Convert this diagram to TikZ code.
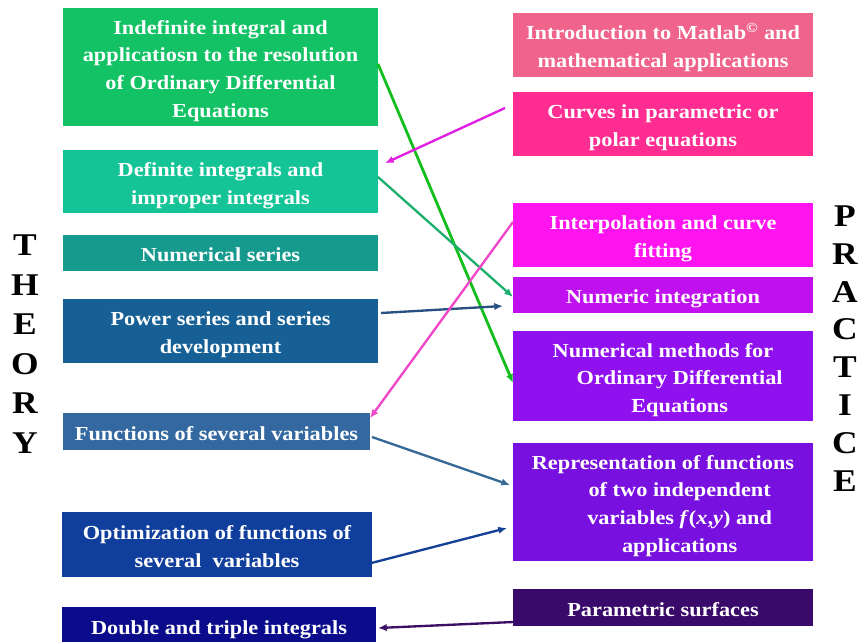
\documentclass[tikz,border=0pt]{standalone}
\usepackage{fontspec}
\setmainfont[FakeStretch=1.12]{Liberation Serif}
\usetikzlibrary{arrows.meta}

\definecolor{tone1}{RGB}{18,194,100}
\definecolor{tone2}{RGB}{20,196,150}
\definecolor{tone3}{RGB}{22,154,142}
\definecolor{tone4}{RGB}{22,96,150}
\definecolor{tone5}{RGB}{52,104,160}
\definecolor{tone6}{RGB}{16,62,156}
\definecolor{tone7}{RGB}{10,12,140}
\definecolor{pink1}{RGB}{240,100,140}
\definecolor{pink2}{RGB}{255,45,145}
\definecolor{pink3}{RGB}{255,20,240}
\definecolor{pink4}{RGB}{192,16,240}
\definecolor{pink5}{RGB}{144,16,240}
\definecolor{pink6}{RGB}{120,16,224}
\definecolor{pink7}{RGB}{58,10,106}
\definecolor{wire1}{RGB}{20,190,30}
\definecolor{wire2}{RGB}{225,30,225}
\definecolor{wire3}{RGB}{30,175,110}
\definecolor{wire4}{RGB}{40,80,130}
\definecolor{wire5}{RGB}{240,70,200}
\definecolor{wire6}{RGB}{55,105,150}
\definecolor{wire7}{RGB}{20,65,150}
\definecolor{wire8}{RGB}{60,15,100}

% pushes the text of a box a little down
\newcommand{\lift}{\rule{0pt}{19pt}}
\newcommand{\sink}{\rule[-4pt]{0pt}{4pt}}

\tikzset{
  topic/.style={rectangle, fill=#1, text=white, align=center, inner sep=0pt,
    outer sep=0pt, font=\fontsize{17}{23.6}\selectfont\bfseries},
  side/.style={align=center, inner sep=0pt, font=\fontsize{27}{#1}\selectfont\bfseries},
  link/.style={draw=#1, line width=2pt, -{Latex[length=2.6mm,width=2.2mm]}}
}

\begin{document}
\begin{tikzpicture}[x=0.3mm,y=-0.3mm]
  \useasboundingbox (0,0) rectangle (863,641);
  \draw
    (220.5,67) node[topic=tone1, minimum width=94.5mm, minimum height=35.4mm] (t1)
      {\lift Indefinite integral and\\applicatiosn to the resolution\\of Ordinary Differential\\Equations\sink}
    (220.5,181.5) node[topic=tone2, minimum width=94.5mm, minimum height=18.9mm] (t2)
      {\lift Definite integrals and\\improper integrals\sink}
    (220.5,253) node[topic=tone3, minimum width=94.5mm, minimum height=10.8mm] (t3)
      {\lift Numerical series\sink}
    (220.5,331) node[topic=tone4, minimum width=94.5mm, minimum height=19.2mm] (t4)
      {\lift Power series and series\\development\sink}
    (216.5,431.5) node[topic=tone5, minimum width=92.1mm, minimum height=11.1mm] (t5)
      {\lift Functions of several variables\sink}
    (217,544.5) node[topic=tone6, minimum width=93mm, minimum height=19.5mm] (t6)
      {\lift Optimization of functions of\\several~ variables\sink}
    (219,626) node[topic=tone7, minimum width=94.2mm, minimum height=11.4mm] (t7)
      {\lift Double and triple integrals\sink}
    (663,45) node[topic=pink1, minimum width=90mm, minimum height=19.2mm] (p1)
      {\lift Introduction to Matlab\textsuperscript{\copyright} and\\mathematical applications\sink}
    (663,124) node[topic=pink2, minimum width=90mm, minimum height=19.2mm] (p2)
      {\lift Curves in parametric or\\polar equations\sink}
    (663,235) node[topic=pink3, minimum width=90mm, minimum height=19.2mm] (p3)
      {\lift Interpolation and curve\\fitting\sink}
    (663,295) node[topic=pink4, minimum width=90mm, minimum height=10.8mm] (p4)
      {\lift Numeric integration\sink}
    (663,376) node[topic=pink5, minimum width=90mm, minimum height=27mm] (p5)
      {\lift Numerical methods for\\\hspace*{10mm}Ordinary Differential\\\hspace*{10mm}Equations\sink}
    (663,502) node[topic=pink6, minimum width=90mm, minimum height=35.4mm] (p6)
      {\lift Representation of functions\\\hspace*{10mm}of two independent\\\hspace*{10mm}variables \textit{f}(\textit{x},\textit{y}) and\\\hspace*{10mm}applications\sink}
    (663,607.5) node[topic=pink7, minimum width=90mm, minimum height=11.1mm] (p7)
      {\lift Parametric surfaces\sink}
    (25,344) node[side=33.7] (theory) {T\\H\\E\\O\\R\\Y}
    (845,348.5) node[side=32.3] (practice) {P\\R\\A\\C\\T\\I\\C\\E};
  \begin{scope}
    \draw[link=wire1, line width=2.4pt]
      ([yshift=0.9mm]t1.east) to ([yshift=-2.1mm]p5.west);
    \draw[link=wire2]
      ([xshift=-2.4mm,yshift=4.8mm]p2.west) to ([xshift=2.1mm,yshift=5.5mm]t2.east);
    \draw[link=wire3]
      ([yshift=1.35mm]t2.east) to ([yshift=-0.6mm]p4.west);
    \draw[link=wire4]
      ([xshift=0.9mm,yshift=5.4mm]t4.east) to ([xshift=-3mm,yshift=-3.3mm]p4.west);
    \draw[link=wire5]
      ([yshift=3.9mm]p3.west) to ([yshift=4mm]t5.east);
    \draw[link=wire6]
      ([xshift=0.6mm,yshift=-1.65mm]t5.east) to ([xshift=-0.9mm,yshift=5.1mm]p6.west);
    \draw[link=wire7]
      ([yshift=-5.5mm]t6.east) to ([xshift=-1.8mm,yshift=-7.8mm]p6.west);
    \draw[link=wire8]
      ([yshift=-4.35mm]p7.west) to ([xshift=0.6mm,yshift=-0.6mm]t7.east);
  \end{scope}
\end{tikzpicture}
\end{document}
